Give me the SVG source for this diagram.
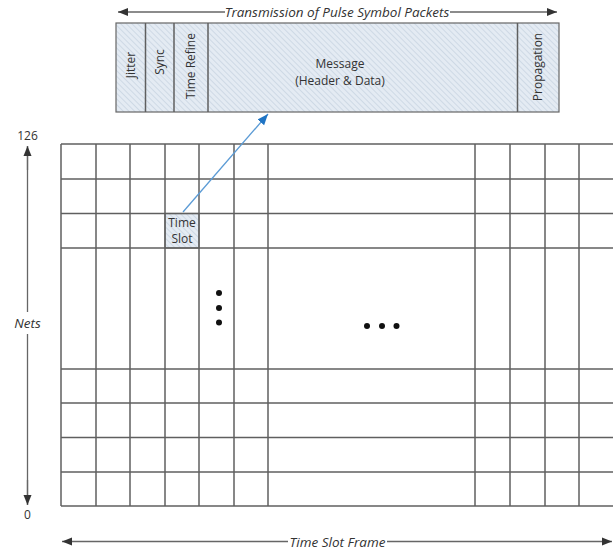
<svg xmlns="http://www.w3.org/2000/svg" width="613" height="549" viewBox="0 0 613 549">
<style>
.grid{stroke:#5f5f5f;stroke-width:1.5;fill:none}
.axis{stroke:#666;stroke-width:1.3;fill:none}
.hatch{fill:url(#hatch);stroke:#666;stroke-width:1.2}
.lbl{font-family:"Open Sans","Liberation Sans",sans-serif;font-size:12px;fill:#333}
.it{font-style:italic;font-size:13.5px}
.dot{fill:#111}
</style>
<defs>
<pattern id="hatch" width="4" height="4" patternUnits="userSpaceOnUse" patternTransform="rotate(-45)">
<rect width="4" height="4" fill="#e4ebf3"/>
<line x1="0" y1="0" x2="0" y2="4" stroke="#b9c8d8" stroke-width="1"/>
</pattern>
<marker id="ah" viewBox="0 0 10 10" refX="10" refY="5" markerWidth="10" markerHeight="10" markerUnits="userSpaceOnUse" orient="auto-start-reverse">
<path d="M0,1 L10,5 L0,9 z" fill="#333"/>
</marker>
<marker id="ab" viewBox="0 0 10 10" refX="10" refY="5" markerWidth="11" markerHeight="11" markerUnits="userSpaceOnUse" orient="auto">
<path d="M0,1 L10,5 L0,9 z" fill="#1f74c4"/>
</marker>
</defs>

<g id="packet">
<rect class="hatch" x="116" y="23" width="443" height="89"/>
<line class="grid" x1="145.5" y1="23" x2="145.5" y2="112" stroke-width="1.2"/>
<line class="grid" x1="174" y1="23" x2="174" y2="112" stroke-width="1.2"/>
<line class="grid" x1="208" y1="23" x2="208" y2="112" stroke-width="1.2"/>
<line class="grid" x1="517.5" y1="23" x2="517.5" y2="112" stroke-width="1.2"/>
<text class="lbl" transform="translate(135,65) rotate(-90)" text-anchor="middle">Jitter</text>
<text class="lbl" transform="translate(164,62) rotate(-90)" text-anchor="middle">Sync</text>
<text class="lbl" transform="translate(195,66) rotate(-90)" text-anchor="middle">Time Refine</text>
<text class="lbl" x="340" y="68" text-anchor="middle" font-size="12.6">Message</text>
<text class="lbl" x="340" y="85" text-anchor="middle" font-size="12.6">(Header &amp; Data)</text>
<text class="lbl" transform="translate(542,67) rotate(-90)" text-anchor="middle">Propagation</text>
</g>

<g id="grid">
<rect class="hatch" x="165" y="213.5" width="34" height="34.5" stroke="none"/>
<g class="grid">
<line x1="61" y1="144" x2="613" y2="144"/>
<line x1="61" y1="179" x2="613" y2="179"/>
<line x1="61" y1="213.5" x2="613" y2="213.5"/>
<line x1="61" y1="248" x2="613" y2="248"/>
<line x1="61" y1="369" x2="613" y2="369"/>
<line x1="61" y1="403" x2="613" y2="403"/>
<line x1="61" y1="437.5" x2="613" y2="437.5"/>
<line x1="61" y1="472" x2="613" y2="472"/>
<line x1="61" y1="506" x2="613" y2="506"/>
<line x1="61" y1="144" x2="61" y2="506"/>
<line x1="96" y1="144" x2="96" y2="506"/>
<line x1="130" y1="144" x2="130" y2="506"/>
<line x1="165" y1="144" x2="165" y2="506"/>
<line x1="199" y1="144" x2="199" y2="506"/>
<line x1="234" y1="144" x2="234" y2="506"/>
<line x1="268" y1="144" x2="268" y2="506"/>
<line x1="475" y1="144" x2="475" y2="506"/>
<line x1="510" y1="144" x2="510" y2="506"/>
<line x1="545" y1="144" x2="545" y2="506"/>
<line x1="579" y1="144" x2="579" y2="506"/>
</g>
<g id="timeslot">
<text class="lbl" x="182" y="227" text-anchor="middle">Time</text>
<text class="lbl" x="182" y="243" text-anchor="middle">Slot</text>
</g>
<g id="dots">
<circle class="dot" cx="219" cy="293" r="3"/>
<circle class="dot" cx="219" cy="308" r="3"/>
<circle class="dot" cx="219" cy="322.5" r="3"/>
<circle class="dot" cx="367" cy="326" r="3"/>
<circle class="dot" cx="382" cy="326" r="3"/>
<circle class="dot" cx="396.5" cy="326" r="3"/>
</g>
</g>

<g id="connectors">
<line x1="183" y1="212" x2="268" y2="114" stroke="#5b9bd5" stroke-width="1.3" marker-end="url(#ab)"/>
<line class="axis" x1="118" y1="12" x2="557" y2="12" marker-start="url(#ah)" marker-end="url(#ah)"/>
<line class="axis" x1="27.5" y1="146" x2="27.5" y2="312"/>
<line class="axis" x1="27.5" y1="334" x2="27.5" y2="505"/>
<line class="axis" x1="27.5" y1="170" x2="27.5" y2="146" marker-end="url(#ah)"/>
<line class="axis" x1="27.5" y1="480" x2="27.5" y2="505" marker-end="url(#ah)"/>
<line class="axis" x1="62" y1="541.5" x2="612" y2="541.5" marker-start="url(#ah)" marker-end="url(#ah)"/>
</g>

<g id="labels">
<rect x="225" y="3" width="225" height="17" fill="#fff"/>
<text class="lbl it" x="337" y="17" text-anchor="middle">Transmission of Pulse Symbol Packets</text>
<rect x="288" y="533" width="99" height="16" fill="#fff"/>
<text class="lbl it" x="337.5" y="546.5" text-anchor="middle">Time Slot Frame</text>
<text class="lbl" x="27.5" y="140" text-anchor="middle" font-size="14">126</text>
<text class="lbl" x="27.5" y="519" text-anchor="middle" font-size="14">0</text>
<text class="lbl it" x="27.5" y="328" text-anchor="middle" font-size="14.5">Nets</text>
</g>
</svg>
